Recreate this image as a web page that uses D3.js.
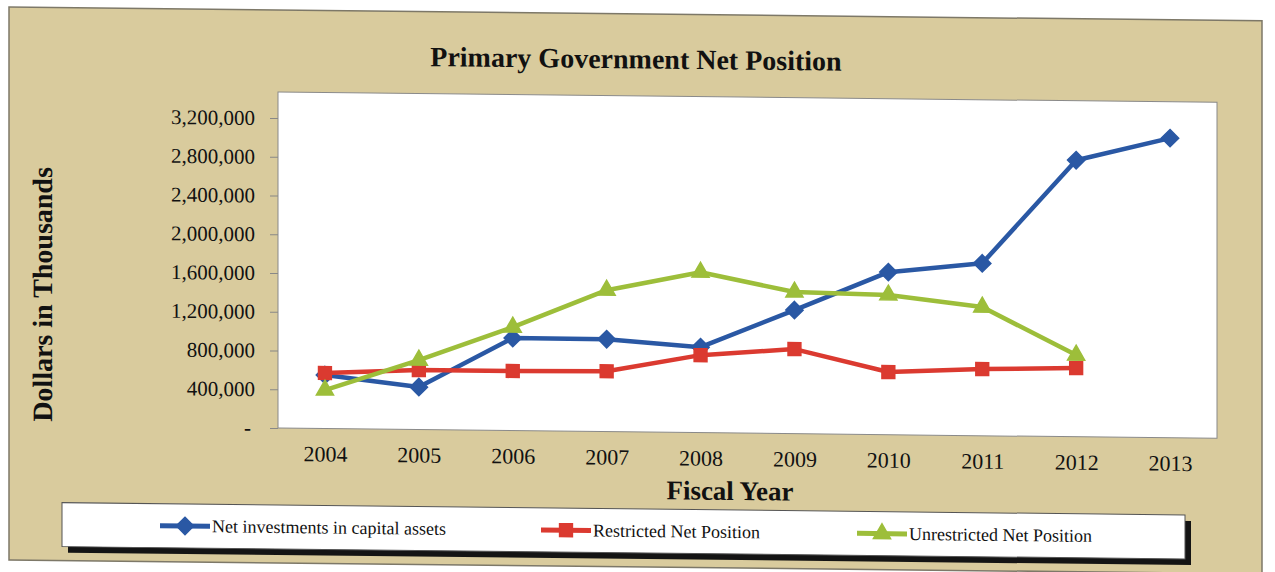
<!DOCTYPE html>
<html>
<head>
<meta charset="utf-8">
<script src="https://cdn.jsdelivr.net/npm/d3@7"></script>
<style>
  html, body { margin: 0; padding: 0; background: #ffffff; }
  svg { display: block; }
  text { font-family: "Liberation Serif", "Times New Roman", serif; fill: #111; }
</style>
</head>
<body>
<svg id="chart" width="1275" height="572"></svg>
<script>
// ---- data ----
const years = ["2004","2005","2006","2007","2008","2009","2010","2011","2012","2013"];
const netInvestment = [552000, 439000, 955000, 954000, 882000, 1276000, 1678000, 1780000, 2855000, 3093000];
const restricted    = [573000, 614000, 615000, 623000, 800000, 873000, 647000, 688000, 709000, null];
const unrestricted  = [397000, 717000, 1068000, 1460000, 1656000, 1462000, 1442000, 1328000, 843000, null];
const yTicks = [0, 400000, 800000, 1200000, 1600000, 2000000, 2400000, 2800000, 3200000];
const seriesNames = ["Net investments in capital assets", "Restricted Net Position", "Unrestricted Net Position"];
const titleText = "Primary Government Net Position";
const yTitle = "Dollars in Thousands";
const xTitle = "Fiscal Year";

// ---- layout ----
const colors = ["#2a58a4", "#db3a30", "#9dbe3a"];
const symbols = [d3.symbolDiamond2, d3.symbolSquare2, d3.symbolTriangle2];
const plot = { left: 278, right: 1217, top: 92, bottom: 428 };

const svg = d3.select("#chart");
svg.append("rect").attr("width", 1275).attr("height", 572).attr("fill", "#ffffff");

// the scan is slightly skewed: reproduce it
const g = svg.append("g")
  .attr("transform", "translate(278,0) skewY(0.63) translate(-278,0)");

// outer tan frame
g.append("rect").attr("x", 9).attr("y", 10).attr("width", 1253).attr("height", 553)
  .attr("fill", "#d9cb9d").attr("stroke", "#7d7868").attr("stroke-width", 1.5);

// title
g.append("text").attr("x", 636).attr("y", 64.5).attr("text-anchor", "middle")
  .attr("font-size", 28).attr("font-weight", "bold").text(titleText);

// plot area
g.append("rect").attr("x", plot.left).attr("y", plot.top)
  .attr("width", plot.right - plot.left).attr("height", plot.bottom - plot.top)
  .attr("fill", "#ffffff").attr("stroke", "#8a8a8a").attr("stroke-width", 1);

const x = d3.scalePoint().domain(years).range([plot.left, plot.right]).padding(0.5);
const y = d3.scaleLinear().domain([0, 3200000]).range([plot.bottom, 118]);

// y axis
const yAxis = d3.axisLeft(y).tickValues(yTicks).tickSize(8).tickPadding(15)
  .tickFormat(d => d === 0 ? "-" : d3.format(",")(d));
const ya = g.append("g").attr("transform", `translate(${plot.left},0)`).call(yAxis);
ya.select(".domain").remove();
ya.selectAll(".tick line").attr("stroke", "#888");
ya.selectAll(".tick text").attr("font-size", 21).attr("fill", "#111")
  .attr("font-family", "Liberation Serif, Times New Roman, serif");
ya.selectAll(".tick text").filter(d => d === 0).attr("dx", -4).attr("font-weight", "bold");

// x axis
const xAxis = d3.axisBottom(x).tickSize(0).tickPadding(0);
const xa = g.append("g").attr("transform", `translate(0,${plot.bottom})`).call(xAxis);
xa.select(".domain").remove();
xa.selectAll(".tick text").attr("font-size", 22).attr("fill", "#111")
  .attr("dy", null).attr("y", 33)
  .attr("font-family", "Liberation Serif, Times New Roman, serif");

// axis titles
g.append("text").attr("x", 730).attr("y", 495).attr("text-anchor", "middle")
  .attr("font-size", 27).attr("font-weight", "bold").text(xTitle);
g.append("text").attr("transform", "translate(52,297) rotate(-90)")
  .attr("text-anchor", "middle").attr("font-size", 28).attr("font-weight", "bold").text(yTitle);

// series
const allSeries = [netInvestment, restricted, unrestricted];
const sizes = [190, 210, 210];
const line = d3.line().defined(d => d.v != null).x(d => x(d.yr)).y(d => y(d.v));
allSeries.forEach((vals, i) => {
  const pts = years.map((yr, j) => ({ yr, v: vals[j] }));
  g.append("path").datum(pts).attr("d", line)
    .attr("fill", "none").attr("stroke", colors[i]).attr("stroke-width", 4.5)
    .attr("stroke-linejoin", "round");
  g.selectAll(null).data(pts.filter(d => d.v != null)).enter().append("path")
    .attr("transform", d => `translate(${x(d.yr)},${y(d.v)})`)
    .attr("d", d3.symbol().type(symbols[i]).size(sizes[i]))
    .attr("fill", colors[i]).attr("stroke", colors[i]).attr("stroke-width", 1.5);
});

// legend
const leg = { x: 62, y: 505, w: 1123, h: 44 };
g.append("rect").attr("x", leg.x + 6).attr("y", leg.y + 6).attr("width", leg.w).attr("height", leg.h)
  .attr("fill", "#141414");
g.append("rect").attr("x", leg.x).attr("y", leg.y).attr("width", leg.w).attr("height", leg.h)
  .attr("fill", "#ffffff").attr("stroke", "#555").attr("stroke-width", 1);
const legStarts = [160, 541, 857];
seriesNames.forEach((name, i) => {
  const lx = legStarts[i], ly = 527;
  g.append("line").attr("x1", lx).attr("x2", lx + 50).attr("y1", ly).attr("y2", ly)
    .attr("stroke", colors[i]).attr("stroke-width", 5);
  g.append("path").attr("transform", `translate(${lx + 25},${ly})`)
    .attr("d", d3.symbol().type(symbols[i]).size(sizes[i]))
    .attr("fill", colors[i]).attr("stroke", colors[i]).attr("stroke-width", 1.5);
  g.append("text").attr("x", lx + 52).attr("y", ly + 6).attr("font-size", 18).text(name);
});
</script>
</body>
</html>
